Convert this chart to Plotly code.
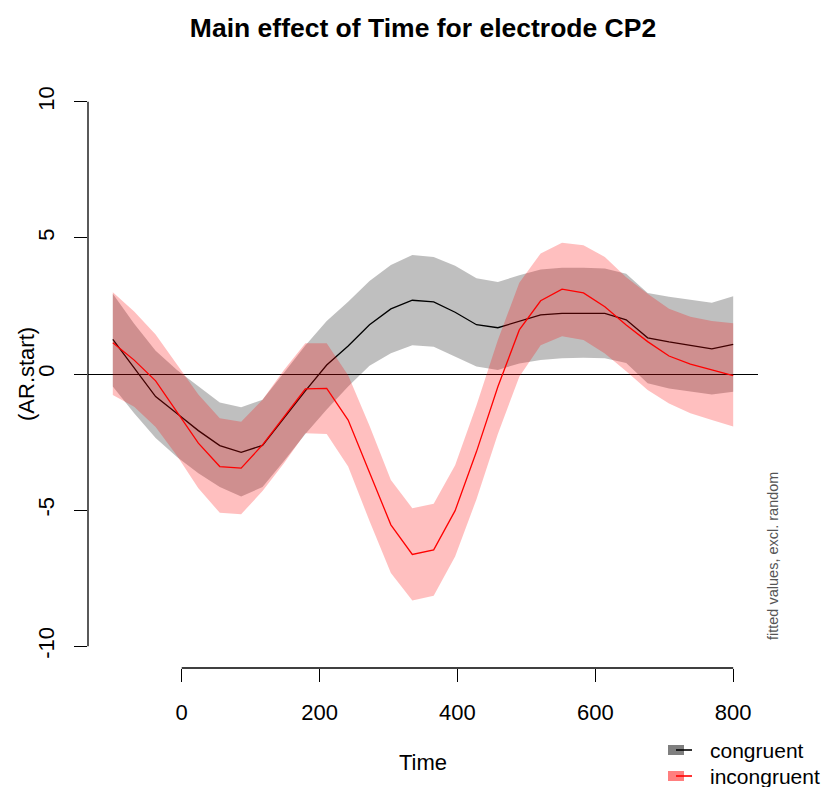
import plotly.graph_objects as go

# ---- data ----
time = [-100.0, -69.0, -37.9, -6.9, 24.1, 55.2, 86.2, 117.2, 148.3, 179.3,
        210.3, 241.4, 272.4, 303.4, 334.5, 365.5, 396.6, 427.6, 458.6, 489.7,
        520.7, 551.7, 582.8, 613.8, 644.8, 675.9, 706.9, 737.9, 769.0, 800.0]

congruent_fit = [1.27, 0.22, -0.83, -1.45, -2.08, -2.63, -2.88, -2.62, -1.61, -0.62,
                 0.33, 1.03, 1.81, 2.39, 2.71, 2.65, 2.27, 1.81, 1.70, 1.94,
                 2.17, 2.23, 2.24, 2.23, 1.99, 1.33, 1.18, 1.05, 0.92, 1.09]
congruent_upper = [2.95, 1.85, 0.85, 0.15, -0.45, -1.05, -1.22, -0.95, 0.05, 1.05,
                   1.95, 2.65, 3.42, 4.00, 4.37, 4.30, 3.98, 3.52, 3.38, 3.63,
                   3.84, 3.90, 3.90, 3.88, 3.68, 2.98, 2.84, 2.74, 2.62, 2.86]
congruent_lower = [-0.46, -1.44, -2.35, -3.05, -3.65, -4.15, -4.50, -4.15, -3.20, -2.20,
                   -1.30, -0.46, 0.30, 0.76, 1.06, 1.00, 0.64, 0.28, 0.15, 0.39,
                   0.51, 0.58, 0.60, 0.58, 0.40, -0.34, -0.53, -0.65, -0.75, -0.65]

incongruent_fit = [1.15, 0.51, -0.25, -1.40, -2.54, -3.40, -3.46, -2.60, -1.56, -0.55,
                   -0.53, -1.69, -3.62, -5.54, -6.63, -6.46, -5.02, -2.85, -0.47, 1.62,
                   2.69, 3.12, 2.98, 2.47, 1.80, 1.19, 0.66, 0.36, 0.15, -0.06]
incongruent_upper = [3.00, 2.30, 1.45, 0.35, -0.75, -1.63, -1.75, -0.95, 0.15, 1.13,
                     1.13, -0.05, -1.90, -3.89, -4.93, -4.77, -3.35, -1.15, 1.25, 3.35,
                     4.43, 4.82, 4.73, 4.30, 3.55, 2.95, 2.40, 2.10, 1.95, 1.86]
incongruent_lower = [-0.77, -1.20, -1.95, -3.00, -4.20, -5.10, -5.15, -4.30, -3.28, -2.18,
                     -2.20, -3.40, -5.40, -7.31, -8.32, -8.15, -6.70, -4.60, -2.20, -0.10,
                     1.06, 1.39, 1.25, 0.75, 0.10, -0.59, -1.08, -1.44, -1.69, -1.93]

x_ticks = [0, 200, 400, 600, 800]
y_ticks = [-10, -5, 0, 5, 10]
y_tick_labels = ["-10", "-5", "0", "5", "10"]
legend_labels = ["congruent", "incongruent"]

# ---- layout geometry (pixels) ----
W, H = 829, 787
L, R, T, B = 88, 758, 80, 668
FONT = "Liberation Sans, Arial, sans-serif"


def px_x(x):
    return (x - L) / (R - L)


def px_y(y):
    return (B - y) / (B - T)


fig = go.Figure()

series = [
    (congruent_fit, congruent_upper, congruent_lower, "rgba(0,0,0,0.25)", "black"),
    (incongruent_fit, incongruent_upper, incongruent_lower, "rgba(255,0,0,0.25)", "red"),
]
for fit, up, lo, fillc, linec in series:
    fig.add_trace(go.Scatter(
        x=time + time[::-1], y=up + lo[::-1], mode="lines", fill="toself",
        fillcolor=fillc, line=dict(width=0), hoverinfo="skip", showlegend=False))
    fig.add_trace(go.Scatter(
        x=time, y=fit, mode="lines", line=dict(color=linec, width=1.3),
        showlegend=False))

axis_common = dict(showgrid=False, showline=False, ticks="outside", ticklen=13,
                   tickwidth=1.3, tickcolor="black",
                   tickfont=dict(family=FONT, size=22, color="black"))

fig.update_xaxes(range=[-136, 836], tickvals=x_ticks, zeroline=False,
                 ticklabelstandoff=12, **axis_common)
fig.update_yaxes(range=[-10.8, 10.8], tickvals=y_ticks, ticktext=y_tick_labels,
                 zeroline=True, zerolinecolor="black", zerolinewidth=1.3, tickangle=-90,
                 ticklabelstandoff=11, **axis_common)

shapes = [
    # R-style axis lines spanning first..last tick
    dict(type="line", xref="x", yref="paper", x0=x_ticks[0], x1=x_ticks[-1], y0=0, y1=0,
         line=dict(color="black", width=1.3)),
    dict(type="line", xref="paper", yref="y", x0=0, x1=0, y0=y_ticks[0], y1=y_ticks[-1],
         line=dict(color="black", width=1.3)),
]

annotations = [
    dict(text="(AR.start)", x=px_x(26), y=0.5, xref="paper", yref="paper",
         textangle=-90, showarrow=False, xanchor="center", yanchor="middle",
         font=dict(family=FONT, size=22, color="black")),
    dict(text="Time", x=0.5, y=px_y(762), xref="paper", yref="paper",
         showarrow=False, xanchor="center", yanchor="middle",
         font=dict(family=FONT, size=22, color="black")),
    dict(text="fitted values, excl. random", x=px_x(773), y=px_y(556),
         xref="paper", yref="paper", textangle=-90, showarrow=False,
         xanchor="center", yanchor="middle",
         font=dict(family=FONT, size=14.5, color="#555555")),
]

# custom legend (R style: translucent box + line)
leg_rows = [750, 776]
leg_fill = ["rgba(0,0,0,0.5)", "rgba(255,0,0,0.5)"]
leg_line = ["black", "red"]
for lab, yc, fc, lc in zip(legend_labels, leg_rows, leg_fill, leg_line):
    shapes.append(dict(type="rect", xref="paper", yref="paper",
                       x0=px_x(668), x1=px_x(684), y0=px_y(yc - 5), y1=px_y(yc + 5),
                       fillcolor=fc, line=dict(width=0)))
    shapes.append(dict(type="line", xref="paper", yref="paper",
                       x0=px_x(676), x1=px_x(692), y0=px_y(yc), y1=px_y(yc),
                       line=dict(color=lc, width=1.6)))
    annotations.append(dict(text=lab, x=px_x(708), y=px_y(yc), xref="paper", yref="paper",
                            showarrow=False, xanchor="left", yanchor="middle",
                            font=dict(family=FONT, size=21, color="black")))

fig.update_layout(
    width=W, height=H, autosize=False,
    margin=dict(l=L, r=W - R, t=T, b=H - B, pad=0),
    paper_bgcolor="white", plot_bgcolor="white",
    title=dict(text="<b>Main effect of Time for electrode CP2</b>",
               x=0.5, xref="paper", xanchor="center",
               y=1 - 28 / H, yref="container", yanchor="middle",
               font=dict(family=FONT, size=26.5, color="black")),
    shapes=shapes, annotations=annotations, showlegend=False,
)

fig.write_html("out.html")
